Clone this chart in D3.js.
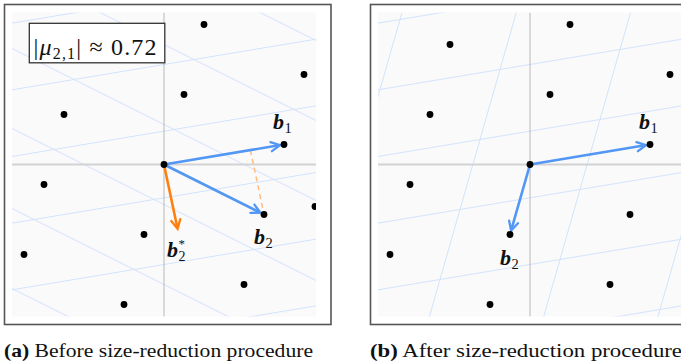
<!DOCTYPE html>
<html>
<head>
<meta charset="utf-8">
<script src="https://cdn.jsdelivr.net/npm/d3@7"></script>
<style>
  html, body { margin: 0; padding: 0; background: #fff; }
  svg { display: block; }
  text { font-family: "Liberation Serif", "Times New Roman", serif; }
</style>
</head>
<body>
<svg id="chart" width="681" height="364"></svg>
<script>
// Basis vectors of the 2D lattice (plot units)
const b1 = [6, 1];
const b2 = [5, -2.5];
// Gram–Schmidt coefficient shown in the box
const mu = 0.72;
const muLabel = "0.72";
// Lattice points visible in the window
const latticePoints = [
  [2, 7], [-4, 6], [7, 4.5], [1, 3.5], [-5, 2.5], [6, 1], [0, 0],
  [-6, -1], [5, -2.5], [-1, -3.5], [-7, -4.5], [4, -6], [-2, -7]
];
const extraPointsA = [[7.55, -2.1]];
const captions = [
  { tag: "(a)", text: " Before size-reduction procedure", width: 309 },
  { tag: "(b)", text: " After size-reduction procedure", width: 312 }
];

const sub = (p, q) => [p[0] - q[0], p[1] - q[1]];
const scale = (p, s) => [p[0] * s, p[1] * s];
const add = (p, q) => [p[0] + q[0], p[1] + q[1]];

const b2Star = sub(b2, scale(b1, mu));                // orthogonal component
const b2Reduced = sub(b2, scale(b1, Math.round(mu))); // size-reduced vector

const svg = d3.select("#chart");
const BLUE = "#5297f5", ORANGE = "#ff7f0e", GRID = "#d3e3fb";

const panels = [
  { frameX: 4.5, u: b1, v: b2, points: latticePoints.concat(extraPointsA), stage: 0 },
  { frameX: 370.5, u: b1, v: b2Reduced, points: latticePoints, stage: 1 }
];

const defs = svg.append("defs");

panels.forEach((P, i) => {
  const innerX = P.frameX + 7.5, innerY = 12.5, size = 304;
  const x = d3.scaleLinear().domain([-7.6, 7.6]).range([innerX, innerX + size]);
  const y = d3.scaleLinear().domain([7.6, -7.6]).range([innerY, innerY + size]);
  const g = svg.append("g");

  g.append("rect")
    .attr("x", P.frameX).attr("y", 4.5).attr("width", 326.5).attr("height", 320)
    .attr("fill", "#fff").attr("stroke", "#555").attr("stroke-width", 1.6);
  g.append("rect")
    .attr("x", innerX).attr("y", innerY).attr("width", size).attr("height", size)
    .attr("fill", "#fafafa");

  const clipId = "clip" + i;
  defs.append("clipPath").attr("id", clipId).append("rect")
    .attr("x", innerX).attr("y", innerY).attr("width", size).attr("height", size);
  const c = g.append("g").attr("clip-path", `url(#${clipId})`);

  // cell boundaries, offset half a step from the lattice points
  const line = d3.line().x(d => x(d[0])).y(d => y(d[1]));
  const gridSets = [[P.u, P.v], [P.v, P.u]];
  gridSets.forEach(([dir, step]) => {
    d3.range(-7, 7).forEach(k => {
      const base = scale(step, k + 0.5);
      c.append("path")
        .attr("d", line([add(base, scale(dir, -6)), add(base, scale(dir, 6))]))
        .attr("stroke", GRID).attr("stroke-width", 1).attr("fill", "none");
    });
  });

  // axes through the origin
  c.append("line").attr("x1", innerX).attr("x2", innerX + size)
    .attr("y1", y(0)).attr("y2", y(0)).attr("stroke", "#d2d2d2").attr("stroke-width", 1.8);
  c.append("line").attr("x1", x(0)).attr("x2", x(0))
    .attr("y1", innerY).attr("y2", innerY + size).attr("stroke", "#b8b8b8").attr("stroke-width", 1);

  // projection of b2 onto b1
  if (P.stage === 0) {
    const foot = scale(b1, mu);
    c.append("line")
      .attr("x1", x(foot[0])).attr("y1", y(foot[1]))
      .attr("x2", x(b2[0])).attr("y2", y(b2[1]))
      .attr("stroke", "#ffbb80").attr("stroke-width", 1.5)
      .attr("stroke-dasharray", "5,4");
  }

  function arrow(vec, color, shorten) {
    const x0 = x(0), y0 = y(0);
    let x1 = x(vec[0]), y1 = y(vec[1]);
    const dx = x1 - x0, dy = y1 - y0, len = Math.hypot(dx, dy);
    const ux = dx / len, uy = dy / len;
    x1 -= ux * shorten; y1 -= uy * shorten;
    const hl = 9, hw = 4.6;
    const a = [x1 - ux * hl - uy * hw, y1 - uy * hl + ux * hw];
    const b = [x1 - ux * hl + uy * hw, y1 - uy * hl - ux * hw];
    c.append("line").attr("x1", x0).attr("y1", y0)
      .attr("x2", x1 - ux * 1).attr("y2", y1 - uy * 1)
      .attr("stroke", color).attr("stroke-width", 2.6);
    c.append("path")
      .attr("d", `M${a[0]},${a[1]}L${x1},${y1}L${b[0]},${b[1]}`)
      .attr("fill", "none").attr("stroke", color).attr("stroke-width", 2.3)
      .attr("stroke-linejoin", "miter").attr("stroke-linecap", "round");
  }

  if (P.stage === 0) arrow(b2Star, ORANGE, 0);
  arrow(P.u, BLUE, 4);
  arrow(P.v, BLUE, 4);

  c.selectAll("circle.pt").data(P.points).enter().append("circle")
    .attr("class", "pt")
    .attr("cx", d => x(d[0])).attr("cy", d => y(d[1])).attr("r", 3.4)
    .attr("fill", "#000");

  // vector labels
  function vecLabel(vec, dx, dy, subText, supText) {
    const t = g.append("text")
      .attr("x", x(vec[0]) + dx).attr("y", y(vec[1]) + dy)
      .attr("font-size", 22).attr("fill", "#111");
    t.append("tspan").attr("font-weight", "bold").attr("font-style", "italic").text("b");
    if (supText) {
      t.append("tspan").attr("font-size", 13).attr("dy", -9).attr("dx", 0.5).text(supText);
      t.append("tspan").attr("font-size", 14).attr("dy", 13).attr("dx", -6.5).text(subText);
    } else {
      t.append("tspan").attr("font-size", 14.5).attr("dy", 4).attr("dx", 0.5).text(subText);
    }
  }
  vecLabel(P.u, -11, -15.5, "1");
  if (P.stage === 0) {
    vecLabel(b2, -10, 29, "2");
    vecLabel(b2Star, -10.6, 28.5, "2", "*");
  } else {
    vecLabel(P.v, -10, 30, "2");
  }

  if (P.stage === 0) {
    g.append("rect").attr("x", 29.3).attr("y", 23.3).attr("width", 135.5).attr("height", 39.5)
      .attr("fill", "#fff").attr("stroke", "#333").attr("stroke-width", 1.3);
    const t = g.append("text").attr("x", 33.5).attr("y", 55).attr("font-size", 24).attr("fill", "#111")
      .attr("textLength", 123).attr("lengthAdjust", "spacing");
    t.append("tspan").text("|");
    t.append("tspan").attr("font-style", "italic").text("μ");
    t.append("tspan").attr("font-size", 16).attr("dy", 4).text("2,1");
    t.append("tspan").attr("dy", -4).text("| ≈ " + muLabel);
  }

  const cap = svg.append("text").attr("x", P.frameX - 0.5).attr("y", 356.5)
    .attr("font-size", 19.5).attr("fill", "#111")
    .attr("textLength", captions[i].width).attr("lengthAdjust", "spacingAndGlyphs");
  cap.append("tspan").attr("font-weight", "bold").text(captions[i].tag);
  cap.append("tspan").text(captions[i].text);
});
</script>
</body>
</html>
